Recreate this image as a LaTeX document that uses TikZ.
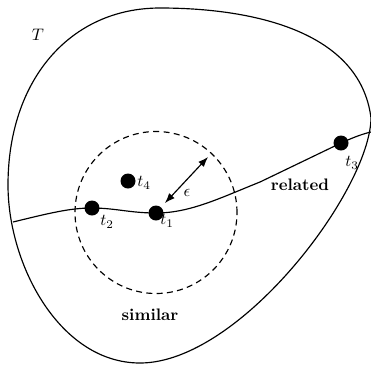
\documentclass[tikz,border=0pt]{standalone}
\usetikzlibrary{arrows.meta}
\begin{document}
\begin{tikzpicture}[x=0.6pt,y=-0.6pt,
  line/.style={line width=0.7pt},
  dot/.style={circle,fill=black,inner sep=0pt,minimum size=9pt},
  lbl/.style={inner sep=0pt},
  word/.style={inner sep=0pt,font=\bfseries}]
\useasboundingbox (0,0) rectangle (371,364);
% outer set T
\draw[line] (8,185) .. controls (8,80) and (70,8) .. (160,8)
  .. controls (250,8) and (360,30) .. (371,118)
  .. controls (370,190) and (240,363) .. (140,363)
  .. controls (60,363) and (8,265) .. (8,185) -- cycle;
% dashed neighbourhood
\coordinate (c) at (156,212.5);
\draw[line,dashed,dash pattern=on 3.6pt off 2.6pt] (c) circle[radius=48.6pt];
% related curve
\coordinate (s) at (13,222);
\coordinate (e) at (371,132);
\node[dot] (t1) at (156,213) {};
\node[dot] (t2) at (92,208) {};
\node[dot] (t3) at (341,143) {};
\node[dot] (t4) at (128,181) {};
\draw[line] (s) .. controls (50,213) and (70,208) .. (t2.center)
  .. controls (115,208) and (130,213) .. (t1.center)
  .. controls (190,213) and (220,198) .. (260,182) -- (t3.center)
  .. controls (352,138) and (362,134) .. (e);
\node[lbl] (l1) at (167,221) {$t_1$};
\node[lbl] (l2) at (107,222) {$t_2$};
\node[lbl] (l3) at (352,163) {$t_3$};
\node[lbl] (l4) at (144,183) {$t_4$};
% epsilon arrow
\coordinate (a1) at (165,203);
\coordinate (a2) at (208,157);
\draw[line,{Latex[length=6pt,width=4.5pt]}-{Latex[length=6pt,width=4.5pt]}] (a1) -- (a2);
\node[lbl] (eps) at (187,193) {$\epsilon$};
% words
\node[word] (rel) at (300,185) {related};
\node[word] (sim) at (150,315) {similar};
\node[lbl] (T) at (38,35) {$T$};
\end{tikzpicture}
\end{document}
